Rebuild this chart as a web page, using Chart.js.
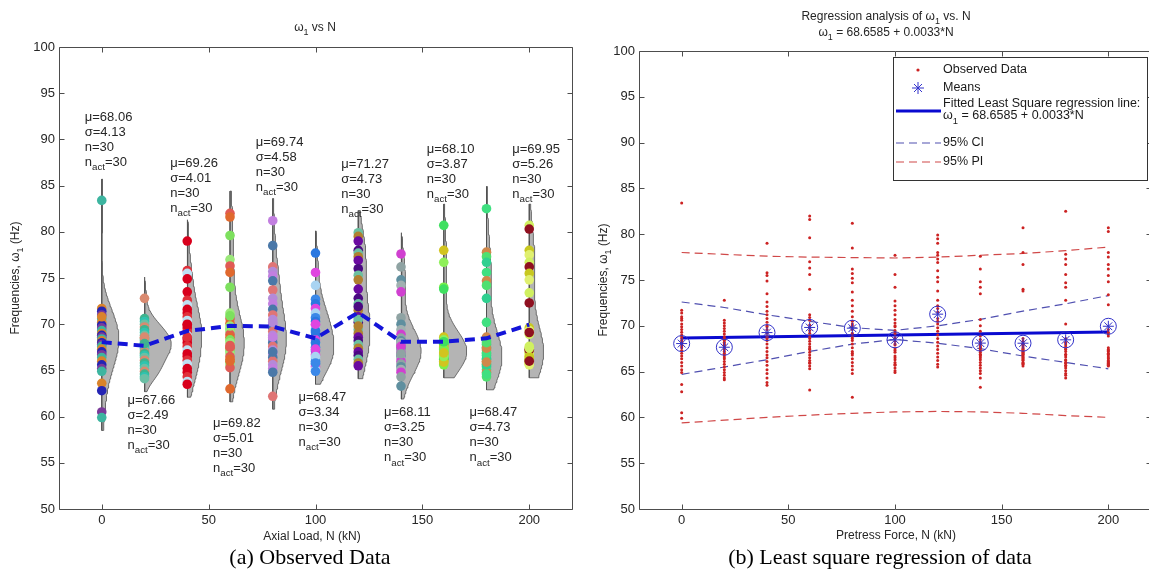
<!DOCTYPE html>
<html>
<head>
<meta charset="utf-8">
<script src="https://cdn.jsdelivr.net/npm/chart.js@4.4.0/dist/chart.umd.min.js"></script>
<style>
  body { margin: 0; width: 1149px; height: 578px; overflow: hidden; background: #fff; position: relative; }
  canvas { position: absolute; top: 0; }
  #c1 { left: 0; }
  #c2 { left: 590px; }
  .cap { position: absolute; top: 544px; line-height: 26px; font-size: 22px; font-family: "Liberation Serif", "Times New Roman", serif; color: #000; white-space: nowrap; transform: translateX(-50%); }
</style>
</head>
<body>
<canvas id="c1" width="590" height="578"></canvas>
<canvas id="c2" width="570" height="578"></canvas>
<div class="cap" style="left:310px">(a) Observed Data</div>
<div class="cap" style="left:880px">(b) Least square regression of data</div>
<script>
// axial load groups (kN)
var loads = [0, 20, 40, 60, 80, 100, 120, 140, 160, 180, 200];

// observed frequencies (Hz), 30 per load
var obs0   = [83.4, 71.7, 71.4, 71.0, 70.6, 70.2, 69.9, 69.6, 69.3, 69.0, 68.8, 68.6, 68.4, 68.2, 68.0, 67.8, 67.6, 67.3, 67.0, 66.7, 66.4, 66.0, 65.6, 65.2, 64.9, 63.6, 62.8, 60.5, 59.9, 70.8];
var obs20  = [72.8, 70.6, 70.3, 70.0, 69.7, 69.4, 69.1, 68.8, 68.6, 68.4, 68.2, 68.0, 67.8, 67.6, 67.4, 67.2, 67.0, 66.8, 66.6, 66.4, 66.1, 65.8, 65.5, 65.2, 64.9, 64.6, 64.3, 64.1, 68.5, 67.9];
var obs40  = [79.0, 75.8, 75.5, 74.9, 73.5, 72.6, 72.1, 71.6, 71.2, 70.8, 70.4, 70.0, 69.6, 69.2, 68.8, 68.4, 68.0, 67.6, 67.2, 66.8, 66.5, 66.1, 65.7, 65.2, 64.8, 64.3, 63.8, 63.5, 69.9, 68.6];
var obs60  = [82.0, 81.6, 79.6, 77.0, 76.3, 75.6, 74.0, 71.2, 70.6, 70.1, 69.5, 69.2, 68.9, 68.6, 68.3, 68.0, 67.7, 67.4, 67.1, 66.8, 66.5, 66.2, 65.9, 65.6, 65.3, 63.0, 70.9, 69.8, 67.5, 66.0];
var obs80  = [81.2, 78.5, 76.2, 75.7, 75.2, 74.7, 73.7, 72.8, 72.2, 71.6, 71.0, 70.5, 70.0, 69.6, 69.2, 68.8, 68.4, 68.0, 67.6, 67.2, 66.8, 66.4, 66.0, 65.6, 65.2, 64.8, 62.2, 70.2, 68.6, 67.0];
var obs100 = [77.7, 75.6, 74.2, 72.7, 72.2, 71.7, 71.2, 70.7, 70.3, 69.9, 69.5, 69.1, 68.7, 68.3, 67.9, 67.5, 67.1, 66.7, 66.3, 66.0, 65.7, 65.4, 65.1, 64.9, 68.0, 67.3, 66.5, 65.8, 69.3, 70.0];
var obs120 = [79.9, 79.5, 79.0, 78.0, 77.7, 77.3, 76.9, 76.0, 75.3, 74.8, 73.8, 72.8, 72.2, 71.5, 70.8, 70.2, 69.4, 69.0, 68.6, 68.2, 67.8, 67.4, 67.0, 66.6, 66.2, 65.8, 65.5, 71.9, 70.5, 69.8];
var obs140 = [77.6, 76.2, 74.8, 74.2, 73.5, 70.7, 70.0, 69.4, 68.9, 68.5, 68.2, 67.9, 67.7, 67.5, 67.3, 67.1, 66.9, 66.7, 66.5, 66.3, 66.0, 65.7, 65.4, 65.1, 64.8, 64.3, 63.3, 68.0, 67.6, 66.8];
var obs160 = [80.7, 78.0, 76.7, 74.0, 73.8, 68.6, 68.3, 68.0, 67.8, 67.6, 67.4, 67.2, 67.0, 66.8, 66.6, 66.4, 66.2, 66.0, 65.8, 65.6, 67.9, 67.5, 67.1, 66.7, 66.3, 65.9, 66.5, 67.3, 68.1, 66.9];
var obs180 = [82.5, 77.8, 77.3, 76.7, 75.6, 74.7, 74.2, 72.8, 70.2, 68.6, 68.2, 67.8, 67.5, 67.2, 66.9, 66.6, 66.3, 66.0, 65.7, 65.4, 65.1, 64.8, 64.3, 66.2, 66.8, 67.4, 68.0, 65.6, 64.6, 65.9];
var obs200 = [80.7, 80.3, 78.0, 77.5, 76.7, 76.2, 75.5, 74.8, 73.4, 72.3, 69.6, 69.3, 68.9, 67.3, 67.0, 66.7, 66.4, 66.1, 65.8, 65.6, 66.9, 67.2, 66.2, 65.9, 67.6, 69.1, 66.5, 65.7, 67.4, 66.0];
var observed = [obs0, obs20, obs40, obs60, obs80, obs100, obs120, obs140, obs160, obs180, obs200];

// statistics printed on the plot
var means  = [68.06, 67.66, 69.26, 69.82, 69.74, 68.47, 71.27, 68.11, 68.10, 68.47, 69.95];
var meanTx = ['68.06', '67.66', '69.26', '69.82', '69.74', '68.47', '71.27', '68.11', '68.10', '68.47', '69.95'];
var sigmas = ['4.13', '2.49', '4.01', '5.01', '4.58', '3.34', '4.73', '3.25', '3.87', '4.73', '5.26'];
var counts = [30, 30, 30, 30, 30, 30, 30, 30, 30, 30, 30];
var actual = [30, 30, 30, 30, 30, 30, 30, 30, 30, 30, 30];

// regression (b)
var fitX = [0, 200];
var fitY = [68.6585, 69.3185];
var ciUpper = [72.6, 72.0, 71.2, 70.5, 69.8, 69.5, 70.0, 70.7, 71.6, 72.4, 73.3];
var ciLower = [64.7, 65.5, 66.3, 67.2, 68.0, 68.5, 68.1, 67.5, 66.7, 66.0, 65.3];
var piUpper = [78.0, 77.8, 77.6, 77.5, 77.45, 77.4, 77.5, 77.7, 77.9, 78.2, 78.6];
var piLower = [59.4, 59.7, 60.0, 60.25, 60.45, 60.6, 60.65, 60.6, 60.45, 60.2, 60.0];

// ticks
var xTicks = [0, 50, 100, 150, 200];
var yTicks = [50, 55, 60, 65, 70, 75, 80, 85, 90, 95, 100];

// where the text blocks sit (y value of first line) and dot colours
var labelAt = [92.4, 61.8, 87.4, 59.3, 89.7, 62.1, 87.3, 60.4, 88.9, 60.4, 88.9];
var palettes = [
  ['#3db5a0', '#d9832b', '#2424b4', '#7a3a9a'],
  ['#d98a70', '#3fb38f', '#2ec4b0', '#6bbfa5'],
  ['#d8001c', '#e0303a', '#bfe0f2', '#d8001c'],
  ['#e05a55', '#e0692e', '#7de05e', '#9be87a'],
  ['#c27fe0', '#4a78a8', '#e07575', '#b48ad8'],
  ['#2a78e0', '#e045e0', '#a9d4f2', '#3a88e8'],
  ['#6cc0a0', '#b08030', '#6a0aa0', '#4b0a82'],
  ['#d040d0', '#8fa3a3', '#5f8f9f', '#a0b0b0'],
  ['#3fe060', '#d2c420', '#8ff05a', '#7cf04a'],
  ['#3fe080', '#d0884a', '#4fe070', '#2fd090'],
  ['#d0f060', '#8f1020', '#c8c820', '#e0f070']
];

var FONT = '"Liberation Sans", Arial, sans-serif';
var TXT = '#262626';

// text with subscripts: parts = [[text, isSub], ...]
function rich(ctx, parts, x, y, size, align) {
  var w = 0;
  parts.forEach(function(p) {
    ctx.font = (p[1] ? size * 0.75 : size) + 'px ' + FONT;
    w += ctx.measureText(p[0]).width;
  });
  var cx = align === 'center' ? x - w / 2 : x;
  ctx.textAlign = 'left';
  ctx.textBaseline = 'middle';
  parts.forEach(function(p) {
    ctx.font = (p[1] ? size * 0.75 : size) + 'px ' + FONT;
    ctx.fillText(p[0], cx, y + (p[1] ? size * 0.4 : 0));
    cx += ctx.measureText(p[0]).width;
  });
}

// matlab style box with inward ticks
function drawBox(chart) {
  var ctx = chart.ctx, a = chart.chartArea, sx = chart.scales.x, sy = chart.scales.y;
  ctx.save();
  ctx.strokeStyle = '#4d4d4d';
  ctx.lineWidth = 1;
  ctx.beginPath();
  var l = Math.round(a.left) + 0.5, r = Math.round(a.right) + 0.5, t = Math.round(a.top) + 0.5, b = Math.round(a.bottom) + 0.5;
  ctx.rect(l, t, r - l, b - t);
  xTicks.forEach(function(v) {
    var p = Math.round(sx.getPixelForValue(v)) + 0.5;
    ctx.moveTo(p, b); ctx.lineTo(p, b - 5);
    ctx.moveTo(p, t); ctx.lineTo(p, t + 5);
  });
  yTicks.forEach(function(v) {
    var p = Math.round(sy.getPixelForValue(v)) + 0.5;
    ctx.moveTo(l, p); ctx.lineTo(l + 5, p);
    ctx.moveTo(r, p); ctx.lineTo(r - 5, p);
  });
  ctx.stroke();
  ctx.restore();
}

function scales(yw, xh) {
  return {
    x: {
      type: 'linear', min: -20, max: 220,
      afterBuildTicks: function(s) { s.ticks = xTicks.map(function(v) { return { value: v }; }); },
      afterFit: function(s) { s.height = xh; },
      grid: { display: false, drawTicks: false }, border: { display: false },
      ticks: { padding: 4, color: TXT, font: { family: FONT, size: 13 } }
    },
    y: {
      type: 'linear', min: 50, max: 100,
      afterBuildTicks: function(s) { s.ticks = yTicks.map(function(v) { return { value: v }; }); },
      afterFit: function(s) { s.width = yw; },
      grid: { display: false, drawTicks: false }, border: { display: false },
      ticks: { padding: 4, color: TXT, font: { family: FONT, size: 13 } }
    }
  };
}

// ---------- (a) observed data with distributions ----------
function density(vals) {
  var n = vals.length;
  var m = vals.reduce(function(s, v) { return s + v; }, 0) / n;
  var sd = Math.sqrt(vals.reduce(function(s, v) { return s + (v - m) * (v - m); }, 0) / (n - 1));
  var h = 1.06 * sd * Math.pow(n, -0.2);
  var lo = Math.min.apply(null, vals) - 1.4, hi = Math.max.apply(null, vals) + 2.4;
  var out = [];
  for (var y = lo; y <= hi + 1e-9; y += 0.2) {
    var d = 0;
    vals.forEach(function(v) { var u = (y - v) / h; d += Math.exp(-0.5 * u * u); });
    out.push({ y: y, d: d / (n * h * Math.sqrt(2 * Math.PI)) });
  }
  return out;
}

var dens = observed.map(density);
var peak = 0;
dens.forEach(function(dd) { dd.forEach(function(p) { if (p.d > peak) peak = p.d; }); });
var widthScale = 12.5 / peak;

var violins = dens.map(function(dd, i) {
  var g = loads[i];
  var pts = [{ x: g, y: dd[0].y }];
  dd.forEach(function(p) { pts.push({ x: g + p.d * widthScale, y: p.y }); });
  pts.push({ x: g, y: dd[dd.length - 1].y });
  pts.push({ x: g, y: dd[0].y });
  return {
    type: 'line', data: pts, fill: 'shape', backgroundColor: '#b4b4b4',
    borderColor: '#505050', borderWidth: 0.8, pointRadius: 0, tension: 0, order: 3
  };
});

var dotPts = [], dotCols = [];
observed.forEach(function(vals, i) {
  vals.forEach(function(v, k) {
    dotPts.push({ x: loads[i], y: v });
    dotCols.push(palettes[i][k % palettes[i].length]);
  });
});

var leftDeco = {
  id: 'leftDeco',
  afterDraw: function(chart) {
    var ctx = chart.ctx, sx = chart.scales.x, sy = chart.scales.y;
    drawBox(chart);
    ctx.save();
    ctx.fillStyle = TXT;
    rich(ctx, [['ω', 0], ['1', 1], [' vs N', 0]], 315, 28, 12, 'center');
    rich(ctx, [['Axial Load, N (kN)', 0]], 312, 537, 12, 'center');
    ctx.save();
    ctx.translate(16, 278);
    ctx.rotate(-Math.PI / 2);
    rich(ctx, [['Frequencies, ω', 0], ['1', 1], [' (Hz)', 0]], 0, 0, 12, 'center');
    ctx.restore();
    loads.forEach(function(g, i) {
      var x = sx.getPixelForValue(g) - 17, y = sy.getPixelForValue(labelAt[i]);
      rich(ctx, [['μ=' + meanTx[i], 0]], x, y, 13, 'left');
      rich(ctx, [['σ=' + sigmas[i], 0]], x, y + 15, 13, 'left');
      rich(ctx, [['n=' + counts[i], 0]], x, y + 30, 13, 'left');
      rich(ctx, [['n', 0], ['act', 1], ['=' + actual[i], 0]], x, y + 45, 13, 'left');
    });
    ctx.restore();
  }
};

new Chart(document.getElementById('c1'), {
  type: 'scatter',
  data: {
    datasets: [
      {
        type: 'line', data: loads.map(function(g, i) { return { x: g, y: means[i] }; }),
        borderColor: '#1414d8', borderWidth: 4, borderDash: [10, 6], pointRadius: 0, fill: false, order: 1
      },
      { type: 'scatter', data: dotPts, backgroundColor: dotCols, borderWidth: 0, pointRadius: 4.8, order: 2 }
    ].concat(violins)
  },
  options: {
    responsive: false, animation: false, events: [],
    layout: { padding: { left: 0, right: 18, top: 47, bottom: 0 } },
    scales: scales(59, 69),
    plugins: { legend: { display: false }, tooltip: { enabled: false } }
  },
  plugins: [leftDeco]
});

// ---------- (b) regression ----------
var allPts = [];
observed.forEach(function(vals, i) { vals.forEach(function(v) { allPts.push({ x: loads[i], y: v }); }); });
function series(ys) { return loads.map(function(g, i) { return { x: g, y: ys[i] }; }); }

var rightDeco = {
  id: 'rightDeco',
  afterDraw: function(chart) {
    var ctx = chart.ctx;
    drawBox(chart);
    ctx.save();
    ctx.fillStyle = TXT;
    rich(ctx, [['Regression analysis of ω', 0], ['1', 1], [' vs. N', 0]], 296, 17, 12, 'center');
    rich(ctx, [['ω', 0], ['1', 1], [' = 68.6585 + 0.0033*N', 0]], 296, 33, 12, 'center');
    rich(ctx, [['Pretress Force, N (kN)', 0]], 306, 536, 12, 'center');
    ctx.save();
    ctx.translate(14, 280);
    ctx.rotate(-Math.PI / 2);
    rich(ctx, [['Frequencies, ω', 0], ['1', 1], [' (Hz)', 0]], 0, 0, 12, 'center');
    ctx.restore();

    // legend
    var L = 303, T = 57, R = 557, B = 180;
    ctx.fillStyle = '#fff';
    ctx.fillRect(L, T, R - L, B - T);
    ctx.strokeStyle = '#333';
    ctx.lineWidth = 1;
    ctx.strokeRect(L + 0.5, T + 0.5, R - L, B - T);
    ctx.fillStyle = '#cc2222';
    ctx.beginPath(); ctx.arc(328, 70, 1.6, 0, Math.PI * 2); ctx.fill();
    ctx.strokeStyle = '#3333cc';
    ctx.beginPath();
    ctx.moveTo(322, 88); ctx.lineTo(334, 88); ctx.moveTo(328, 82); ctx.lineTo(328, 94);
    ctx.moveTo(324, 84); ctx.lineTo(332, 92); ctx.moveTo(332, 84); ctx.lineTo(324, 92);
    ctx.stroke();
    ctx.strokeStyle = '#0a0ad0'; ctx.lineWidth = 3;
    ctx.beginPath(); ctx.moveTo(306, 111); ctx.lineTo(351, 111); ctx.stroke();
    ctx.lineWidth = 1.2; ctx.setLineDash([8, 5]);
    ctx.strokeStyle = '#5050b0';
    ctx.beginPath(); ctx.moveTo(306, 143); ctx.lineTo(351, 143); ctx.stroke();
    ctx.strokeStyle = '#d04848';
    ctx.beginPath(); ctx.moveTo(306, 162); ctx.lineTo(351, 162); ctx.stroke();
    ctx.setLineDash([]);
    ctx.fillStyle = '#1a1a1a';
    rich(ctx, [['Observed Data', 0]], 353, 70, 12.5, 'left');
    rich(ctx, [['Means', 0]], 353, 88, 12.5, 'left');
    rich(ctx, [['Fitted Least Square regression line:', 0]], 353, 104, 12.5, 'left');
    rich(ctx, [['ω', 0], ['1', 1], [' = 68.6585 + 0.0033*N', 0]], 353, 116, 12.5, 'left');
    rich(ctx, [['95% CI', 0]], 353, 143, 12.5, 'left');
    rich(ctx, [['95% PI', 0]], 353, 162, 12.5, 'left');
    ctx.restore();
  }
};

new Chart(document.getElementById('c2'), {
  type: 'scatter',
  data: {
    datasets: [
      { data: series(means), pointStyle: 'star', pointRadius: 5.5, borderColor: '#3030c8', borderWidth: 1, backgroundColor: 'transparent', order: 1 },
      { data: series(means), pointStyle: 'circle', pointRadius: 8, borderColor: '#3030c8', borderWidth: 1, backgroundColor: 'rgba(0,0,0,0)', order: 2 },
      { data: allPts, pointRadius: 1.5, backgroundColor: '#cc2222', borderWidth: 0, order: 3 },
      { type: 'line', data: fitX.map(function(x, i) { return { x: x, y: fitY[i] }; }), borderColor: '#0a0ad0', borderWidth: 3, pointRadius: 0, fill: false, order: 4 },
      { type: 'line', data: series(ciUpper), borderColor: '#5050b0', borderWidth: 1.2, borderDash: [8, 5], pointRadius: 0, fill: false, order: 5 },
      { type: 'line', data: series(ciLower), borderColor: '#5050b0', borderWidth: 1.2, borderDash: [8, 5], pointRadius: 0, fill: false, order: 5 },
      { type: 'line', data: series(piUpper), borderColor: '#d04848', borderWidth: 1.2, borderDash: [8, 5], pointRadius: 0, fill: false, order: 6 },
      { type: 'line', data: series(piLower), borderColor: '#d04848', borderWidth: 1.2, borderDash: [8, 5], pointRadius: 0, fill: false, order: 6 }
    ]
  },
  options: {
    responsive: false, animation: false, events: [],
    layout: { padding: { left: 0, right: 7, top: 51, bottom: 0 } },
    scales: scales(49, 69),
    plugins: { legend: { display: false }, tooltip: { enabled: false } }
  },
  plugins: [rightDeco]
});
</script>
</body>
</html>
